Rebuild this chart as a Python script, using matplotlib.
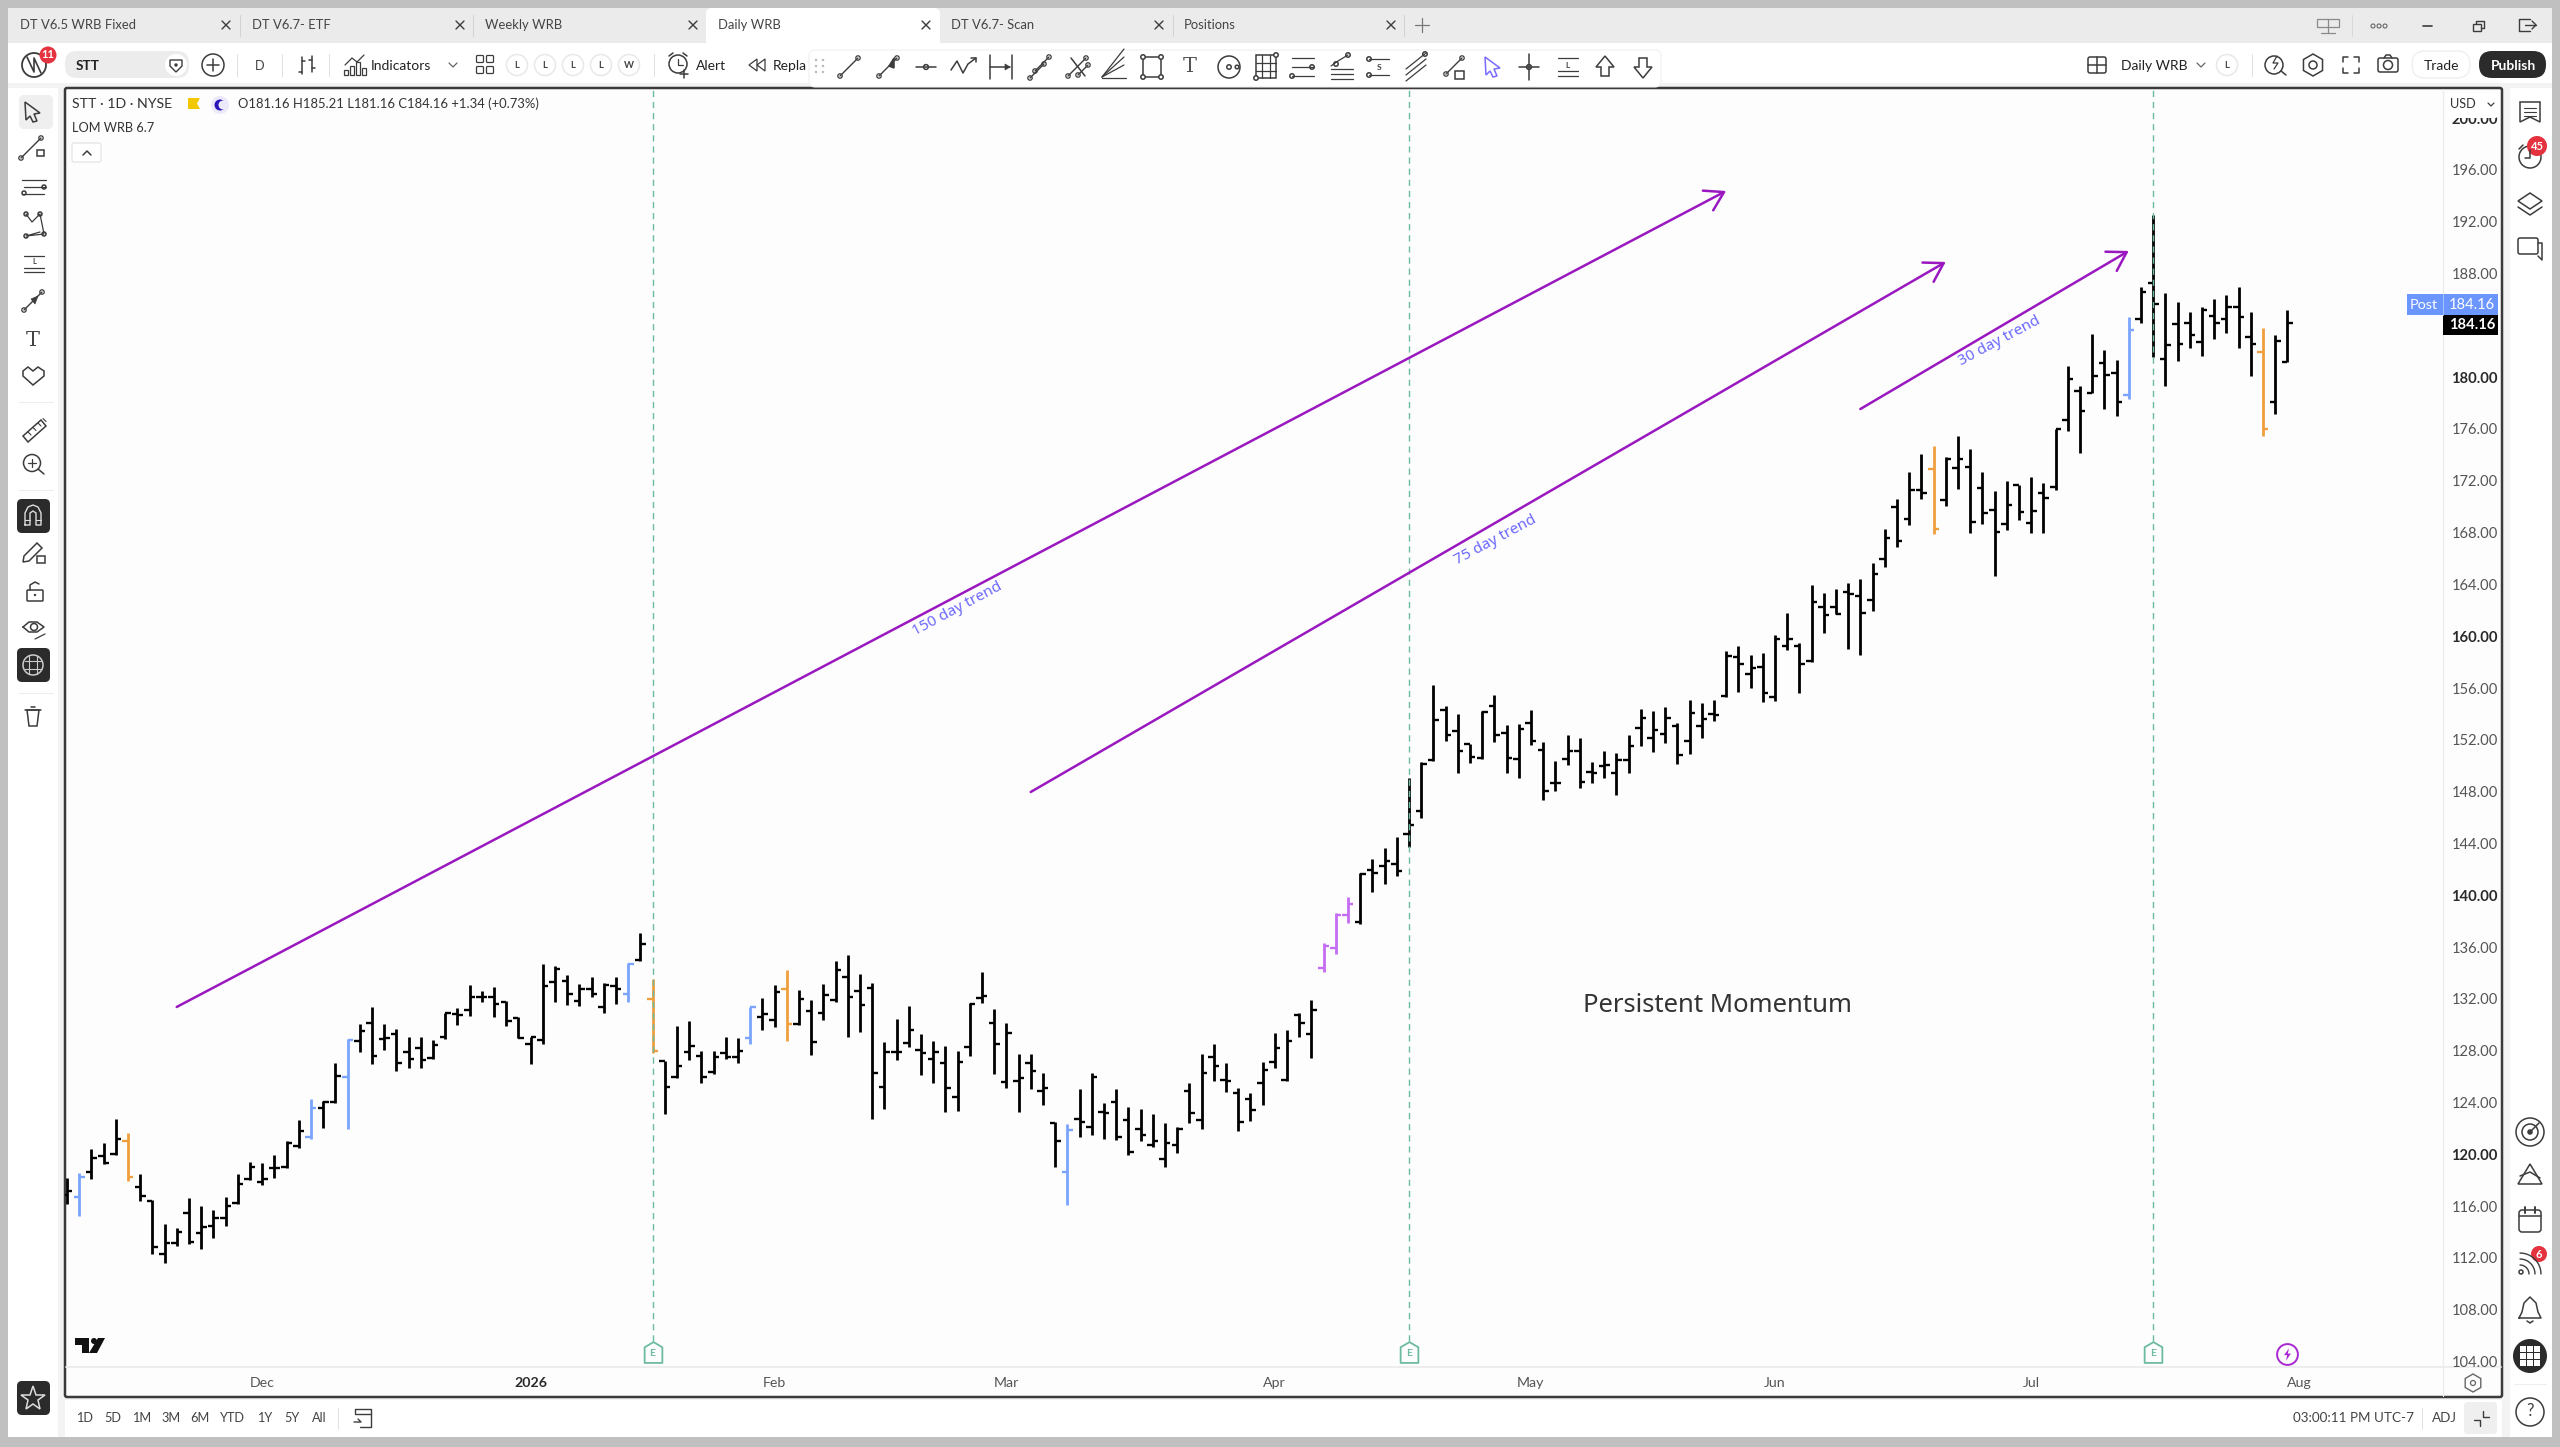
import math
import matplotlib
matplotlib.use('Agg')
import matplotlib.pyplot as plt
from matplotlib.patches import Rectangle, Circle, FancyBboxPatch, Polygon, RegularPolygon
from matplotlib.path import Path

plt.rcParams['font.family'] = ['Lato', 'DejaVu Sans']

# daily bars, Nov 2025 - Jul 2026
bar_open = [116.85, 116.72, 118.65, 119.86, 119.99, 121.04, 117.44, 116.41, 112.30, 113.12,
            115.43, 113.89, 114.48, 115.05, 116.21, 118.11, 117.83, 118.96, 119.01, 120.63,
            121.30, 123.54, 124.01, 125.99, 128.77, 130.16, 128.87, 129.26, 127.92, 128.18,
            127.46, 129.08, 130.83, 131.14, 132.11, 132.11, 131.78, 130.49, 128.51, 128.82,
            133.32, 133.40, 131.86, 132.76, 131.34, 133.01, 132.35, 135.02, 131.99, 127.17,
            125.99, 127.92, 127.58, 126.35, 127.84, 127.53, 129.00, 130.62, 130.36, 132.73,
            130.03, 131.06, 130.88, 131.91, 133.66, 132.60, 132.81, 125.22, 127.92, 128.61,
            128.05, 127.38, 127.07, 124.39, 128.25, 132.04, 130.16, 125.60, 125.68, 127.07,
            124.91, 122.44, 118.63, 122.69, 122.07, 123.23, 124.03, 122.64, 121.92, 120.69,
            119.63, 120.69, 124.91, 122.64, 127.53, 125.73, 124.70, 124.29, 125.47, 127.15,
            125.73, 130.72, 129.28, 134.35, 135.92, 138.44, 137.93, 141.94, 142.25, 142.41,
            144.75, 146.47, 150.46, 154.30, 152.65, 151.67, 150.62, 154.63, 152.55, 150.54,
            153.27, 151.18, 148.66, 150.49, 151.16, 149.54, 149.97, 149.46, 150.41, 152.93,
            152.16, 152.42, 153.06, 151.88, 153.06, 154.02, 155.38, 158.37, 157.08, 157.62,
            155.30, 159.27, 159.27, 158.06, 162.23, 162.28, 163.44, 163.13, 162.77, 165.99,
            169.95, 169.02, 171.26, 172.91, 170.51, 172.96, 173.09, 171.42, 169.74, 168.66,
            171.67, 168.76, 171.03, 171.49, 176.67, 178.93, 178.80, 181.12, 180.30, 178.65,
            184.52, 187.25, 181.38, 184.10, 184.16, 182.69, 184.70, 184.49, 185.42, 183.13,
            181.94, 178.11, 181.16]
bar_high = [118.14, 118.52, 120.38, 120.84, 122.69, 121.61, 118.47, 116.46, 114.59, 114.33,
            116.64, 116.02, 115.69, 116.72, 118.47, 119.37, 119.30, 119.94, 121.04, 122.64,
            124.24, 124.13, 127.07, 128.87, 130.05, 131.34, 130.05, 129.67, 129.08, 129.03,
            128.82, 130.93, 131.27, 133.04, 132.63, 132.94, 131.83, 130.62, 129.08, 134.66,
            134.56, 133.84, 133.14, 133.66, 133.20, 133.66, 134.79, 137.06, 133.50, 127.20,
            129.90, 130.29, 127.99, 127.99, 129.08, 129.00, 131.40, 132.06, 133.04, 134.22,
            132.68, 131.91, 133.14, 134.95, 135.36, 133.89, 133.25, 128.69, 130.44, 131.44,
            129.28, 128.77, 128.38, 127.99, 131.65, 134.04, 131.19, 130.16, 127.74, 127.74,
            126.30, 122.51, 122.31, 125.01, 126.25, 123.93, 125.01, 123.67, 123.47, 123.08,
            122.38, 122.07, 125.47, 127.74, 128.51, 127.07, 125.09, 124.70, 127.15, 129.39,
            129.59, 130.88, 131.91, 136.33, 138.60, 139.88, 141.69, 142.77, 143.62, 144.47,
            149.02, 150.28, 156.23, 154.61, 153.99, 151.67, 154.22, 155.46, 153.14, 153.22,
            154.30, 151.85, 150.39, 152.37, 152.14, 150.31, 151.16, 151.00, 152.37, 154.38,
            154.20, 154.53, 153.27, 155.07, 154.81, 155.07, 158.88, 159.27, 158.57, 158.73,
            160.12, 161.81, 159.50, 163.98, 163.36, 163.62, 164.08, 164.39, 165.63, 168.28,
            170.59, 172.65, 174.04, 174.71, 173.86, 175.48, 174.48, 172.65, 171.18, 171.96,
            171.70, 172.32, 171.80, 175.97, 180.86, 179.32, 183.31, 182.10, 181.32, 184.62,
            186.99, 192.52, 186.52, 185.83, 185.06, 185.44, 186.01, 186.37, 186.99, 185.06,
            183.77, 183.23, 185.21]
bar_low = [116.13, 115.25, 118.11, 119.25, 119.94, 117.93, 116.38, 112.27, 111.57, 112.94,
           113.04, 112.71, 113.56, 114.48, 116.13, 118.01, 117.62, 118.14, 118.96, 120.45,
           121.15, 122.05, 123.93, 121.97, 127.89, 126.97, 128.05, 126.45, 126.68, 126.68,
           127.38, 128.92, 129.98, 130.67, 131.75, 130.57, 129.90, 128.95, 126.97, 128.51,
           131.78, 131.50, 131.44, 132.17, 130.88, 131.60, 131.73, 134.95, 127.79, 123.08,
           125.91, 127.28, 125.52, 126.19, 127.33, 127.02, 128.51, 129.59, 129.80, 128.72,
           129.95, 127.66, 130.36, 131.75, 129.05, 129.41, 122.74, 123.52, 127.28, 128.30,
           126.14, 125.52, 123.23, 123.36, 127.58, 131.65, 126.19, 125.11, 123.29, 125.06,
           123.83, 118.99, 116.08, 121.30, 121.46, 121.15, 121.10, 119.96, 121.04, 120.58,
           118.99, 120.07, 122.44, 121.92, 125.65, 124.83, 121.82, 122.59, 123.83, 126.66,
           125.63, 129.03, 127.43, 134.04, 135.43, 137.88, 137.77, 140.27, 140.86, 141.48,
           143.69, 145.93, 150.39, 151.93, 149.41, 150.23, 150.54, 151.85, 149.46, 149.02,
           151.62, 147.32, 148.02, 150.03, 148.25, 148.64, 149.02, 147.76, 149.41, 151.54,
           151.08, 151.73, 150.10, 150.90, 152.16, 153.48, 155.33, 155.69, 155.98, 154.89,
           154.99, 158.93, 155.59, 158.01, 160.22, 161.69, 159.04, 158.57, 161.97, 165.32,
           166.86, 168.56, 170.59, 167.89, 170.05, 171.34, 167.99, 168.64, 164.65, 168.20,
           168.97, 167.97, 167.97, 171.29, 175.87, 174.12, 178.75, 177.54, 177.03, 178.31,
           184.16, 181.58, 179.32, 181.22, 182.23, 181.63, 182.92, 183.38, 182.23, 180.09,
           175.48, 177.18, 181.16]
bar_close = [117.15, 118.27, 119.68, 119.35, 121.15, 118.27, 116.77, 112.81, 113.12, 114.02,
             113.25, 114.35, 115.05, 116.02, 117.67, 118.99, 118.11, 118.96, 120.89, 121.82,
             123.54, 124.06, 126.07, 128.82, 129.54, 127.61, 128.95, 127.07, 127.33, 127.28,
             128.46, 130.88, 130.78, 132.11, 132.17, 131.60, 130.31, 129.00, 129.03, 132.99,
             134.28, 132.35, 132.73, 132.37, 133.07, 132.73, 134.69, 136.21, 127.97, 125.22,
             126.84, 128.38, 125.99, 127.53, 127.53, 127.99, 131.37, 130.83, 132.53, 130.05,
             131.99, 128.69, 132.29, 134.20, 132.11, 131.52, 126.25, 127.92, 127.92, 129.59,
             127.79, 127.92, 125.09, 127.15, 131.60, 132.22, 128.51, 129.39, 125.86, 126.45,
             125.09, 121.02, 121.87, 122.49, 125.94, 123.21, 121.30, 120.15, 121.48, 121.02,
             120.84, 121.95, 123.16, 126.25, 126.84, 125.65, 122.49, 123.41, 126.50, 128.23,
             128.77, 130.16, 131.14, 136.10, 138.44, 139.34, 141.61, 141.74, 142.64, 141.89,
             145.42, 150.13, 153.53, 152.34, 151.16, 150.69, 154.12, 152.39, 150.62, 152.81,
             151.93, 148.02, 148.66, 151.16, 148.71, 149.43, 150.08, 150.44, 151.54, 153.71,
             152.78, 153.71, 150.85, 154.04, 153.63, 153.94, 158.47, 157.85, 157.54, 155.64,
             159.76, 159.76, 157.85, 162.67, 161.66, 161.74, 163.23, 161.76, 164.80, 167.58,
             167.35, 171.26, 171.03, 168.27, 173.71, 173.71, 168.82, 169.48, 168.04, 170.15,
             169.56, 169.66, 170.67, 175.97, 179.86, 177.41, 180.12, 180.19, 178.11, 183.64,
             186.58, 185.62, 182.48, 182.56, 183.23, 185.21, 184.16, 185.42, 184.62, 182.56,
             176.02, 182.76, 184.16]

blue_bars = [1, 20, 23, 46, 56, 82, 169]
orange_bars = [5, 48, 59, 153, 180]
purple_bars = [103, 104, 105]

earnings_bars = [48, 110, 171]
dividend_bar = 182

price_ticks = list(range(104, 204, 4))
bold_prices = [120, 140, 160, 180, 200]
month_pos = [16, 38, 58, 77, 99, 120, 140, 161, 183]
month_labels = ['Dec', '2026', 'Feb', 'Mar', 'Apr', 'May', 'Jun', 'Jul', 'Aug']

trend_bars = [(9, 136), (79, 154), (147, 169)]
trend_prices = [(131.37, 194.38), (147.97, 188.9), (177.54, 189.75)]
trend_names = ['150 day trend', '75 day trend', '30 day trend']
trend_label_bar = [73, 117.1, 158.4]
trend_label_price = [162.1, 167.4, 182.8]

tab_names = ['DT V6.5 WRB Fixed', 'DT V6.7- ETF', 'Weekly WRB', 'Daily WRB', 'DT V6.7- Scan', 'Positions']
range_names = ['1D', '5D', '1M', '3M', '6M', 'YTD', '1Y', '5Y', 'All']

ICON = '#3c3c3c'
GREY = '#c0c0c0'
TEAL = '#6dbaa3'
PURPLE = '#9a18bf'
BLUE = '#7ba4ff'
ORANGE = '#ef9f3e'
LILAC = '#c46cf2'
TEXT = '#444444'

fig = plt.figure(figsize=(25.6, 14.47), dpi=100, facecolor=GREY)

# chrome drawn in pixel coordinates
bg = fig.add_axes([0, 0, 1, 1], zorder=0)
bg.set_xlim(0, 2560)
bg.set_ylim(1447, 0)
bg.axis('off')
top = fig.add_axes([0, 0, 1, 1], zorder=3)
top.set_xlim(0, 2560)
top.set_ylim(1447, 0)
top.axis('off')


def rect(x0, y0, x1, y1, fc, ec='none', lw=None, rad=0, a=bg):
    if lw is None:
        lw = 0 if ec == 'none' else 1.1
    if rad:
        a.add_patch(FancyBboxPatch((x0 + rad, y0 + rad), x1 - x0 - 2 * rad, y1 - y0 - 2 * rad,
                                   boxstyle=f'round,pad={rad}', fc=fc, ec=ec, lw=lw))
    else:
        a.add_patch(Rectangle((x0, y0), x1 - x0, y1 - y0, fc=fc, ec=ec, lw=lw))


def line(xs, ys, lw=1.1, c=ICON, a=bg):
    a.plot(xs, ys, color=c, lw=lw, solid_capstyle='round', solid_joinstyle='round')


def circ(x, y, r, fc='none', ec=ICON, lw=1.1, a=bg):
    a.add_patch(Circle((x, y), r, fc=fc, ec=ec, lw=lw))


def poly(pts, fc='none', ec=ICON, lw=1.1, a=bg):
    a.add_patch(Polygon(pts, closed=True, fc=fc, ec=ec, lw=lw))


def txt(x, y, s, size=9.5, c=TEXT, ha='left', weight='normal', a=bg, **kw):
    a.text(x, y, s, fontsize=size, color=c, ha=ha, va='center', fontweight=weight, **kw)


def badge(x, y, r, s, a=bg):
    circ(x, y, r, fc='#e5323f', ec='none', a=a)
    txt(x, y, s, size=8, c='white', ha='center', weight='bold', a=a)


def handle_line(x, y, s=9):
    line([x - s, x + s], [y + s, y - s], lw=1.0)
    circ(x - s, y + s, 2.2, fc='white', lw=0.9)
    circ(x + s, y - s, 2.2, fc='white', lw=0.9)


def cursor(x, y, c=ICON):
    poly([(x - 7, y - 10), (x + 8, y + 1), (x + 2, y + 2), (x + 5, y + 9), (x + 1, y + 10),
          (x - 2, y + 4), (x - 6, y + 8)], ec=c)


# window panels
rect(8, 8, 2552, 1437, '#f3f3f3')
rect(8, 8, 2552, 43, '#ebebeb')
rect(8, 43, 2552, 83, 'white')
rect(706, 8, 940, 46, 'white', rad=6)
rect(8, 88, 58, 1437, 'white')
rect(65, 1400, 2502, 1437, 'white')
rect(2510, 88, 2552, 1437, 'white')
rect(65, 88, 2502, 1397, '#fdfdfd', ec='#3a3a3a', lw=1.8, rad=2)
line([2443, 2443], [89, 1396], lw=0.9, c='#ececec')
line([66, 2501], [1367, 1367], lw=1.3, c='#ececec')

# tabs
tab_x = [20, 252, 485, 718, 951, 1184]
close_x = [226, 460, 693, 926, 1159, 1391]
for x, name, cx in zip(tab_x, tab_names, close_x):
    txt(x, 25, name, size=9.4)
    line([cx - 4, cx + 4], [21, 29], lw=1.0)
    line([cx - 4, cx + 4], [29, 21], lw=1.0)
for x in [240, 473, 1173, 1404]:
    line([x, x], [15, 36], lw=0.7, c='#d2d2d2')
line([1415, 1429], [25, 25], lw=0.9, c='#777777')
line([1422, 1422], [18, 32], lw=0.9, c='#777777')

# window buttons
rect(2317, 19, 2339, 27, 'none', ec='#8a8a8a', lw=0.9)
line([2328, 2328], [19, 33], lw=0.9, c='#8a8a8a')
line([2321, 2335], [33, 33], lw=0.9, c='#8a8a8a')
line([2352, 2352], [15, 36], lw=0.7, c='#d8d8d8')
for x in [2373, 2379, 2385]:
    circ(x, 26, 2, ec='#666666', lw=0.8)
line([2423, 2432], [26, 26], lw=1.2)
rect(2473, 24, 2481, 31, 'none', ec=ICON, lw=1.0)
line([2476, 2476, 2484, 2484, 2481], [24, 21, 21, 28, 28], lw=1.0)
line([2530, 2519, 2519, 2530], [19, 19, 31, 31], lw=1.0)
line([2525, 2536], [25, 25], lw=1.0)
line([2532, 2536, 2532], [21, 25, 29], lw=1.0)

# top toolbar, left part
circ(34, 65, 12, lw=1.3)
line([27, 34, 34, 41], [57, 72, 58, 73], lw=1.2)
badge(48, 55, 8.5, '11')
rect(65, 51, 189, 78, '#ececec', rad=12)
txt(76, 66, 'STT', size=9.8, c='#222222', weight='bold')
circ(176, 65, 11, fc='white', ec='none')
poly([(170, 60), (182, 60), (182, 66), (176, 72), (170, 66)], lw=1.0)
circ(176, 65, 1.7, fc=ICON, ec='none')
circ(213, 65, 11)
line([207, 219], [65, 65])
line([213, 213], [59, 71])
for x in [237, 282, 329, 654]:
    line([x, x], [54, 76], lw=0.7, c='#e0e0e0')
txt(260, 66, 'D', size=9.2, ha='center')
line([302, 302], [57, 74])
line([312, 312], [56, 72])
line([299, 302], [72, 72])
line([302, 305], [61, 61])
line([309, 312], [60, 60])
line([312, 315], [68, 68])
for x, h in zip([346, 352, 358, 364], [5, 9, 13, 7]):
    rect(x - 2, 75 - h, x + 2, 75, 'none', ec=ICON, lw=0.9)
line([345, 352, 357, 364], [65, 58, 62, 55], lw=0.9)
txt(371, 66, 'Indicators', size=10, c='#222222')
line([449, 453, 457], [63, 67, 63], lw=0.9, c='#666666')
for x, y in [(480, 59), (490, 59), (480, 70), (490, 70)]:
    rect(x - 3.5, y - 3.5, x + 3.5, y + 3.5, 'none', ec=ICON, lw=0.9, rad=1)
for x, s in zip([517, 545, 573, 601, 629], ['L', 'L', 'L', 'L', 'W']):
    circ(x, 65, 10.5, ec='#e8e8e8')
    txt(x, 65, s, size=6.8, ha='center', weight='bold')
circ(678, 64, 9)
line([678, 678, 683], [59, 65, 65], lw=0.9)
line([684, 684], [70, 78])
line([680, 688], [74, 74])
line([669, 673], [56, 53])
line([687, 683], [56, 53])
txt(696, 66, 'Alert', size=10, c='#222222')
poly([(757, 59), (749, 65), (757, 71)], lw=0.9)
poly([(765, 59), (757, 65), (765, 71)], lw=0.9)
txt(773, 66, 'Repla', size=10, c='#222222')

# floating drawing toolbar
rect(809, 50, 1661, 87, 'white', ec='#f0f0f0', lw=0.8, rad=6)
for y in [60, 66, 72]:
    circ(816, y, 0.8, ec='#b0b0b0', lw=0.6)
    circ(823, y, 0.8, ec='#b0b0b0', lw=0.6)
tool_x = [849, 888, 926, 964, 1002, 1040, 1078, 1114, 1152, 1190, 1229, 1266, 1303, 1342, 1379,
          1416, 1454, 1492, 1529, 1568, 1605, 1643]
y = 67
handle_line(tool_x[0], y)
x = tool_x[1]
handle_line(x, y)
poly([(x + 6, y - 9), (x + 1, y - 1), (x + 6, y + 1)], fc=ICON)
x = tool_x[2]
line([x - 10, x + 10], [y, y])
circ(x, y, 2.4, fc='white')
x = tool_x[3]
line([x - 13, x - 7, x - 1, x + 4, x + 12], [y + 3, y - 6, y + 6, y - 3, y - 9])
line([x + 7, x + 12, x + 12], [y - 9, y - 9, y - 5])
x = tool_x[4]
line([x - 12, x - 12], [y - 12, y + 12])
line([x + 10, x + 10], [y - 12, y + 12])
line([x - 12, x + 8], [y, y])
poly([(x + 3, y - 3), (x + 8, y), (x + 3, y + 3)], fc=ICON, lw=0.5)
x = tool_x[5]
handle_line(x + 2, y - 3, 7)
handle_line(x - 3, y + 4, 7)
x = tool_x[6]
handle_line(x - 1, y, 9)
line([x - 7, x + 7], [y - 9, y + 9])
handle_line(x + 5, y + 3, 5)
x = tool_x[7]
for d in [-8, 0, 8]:
    line([x - 12, x + 10], [y + 10, y - 10 + d], lw=0.9)
line([x - 12, x + 12], [y + 11, y + 11], lw=0.9)
x = tool_x[8]
rect(x - 9, y - 10, x + 9, y + 10, 'none', ec=ICON)
for cx, cy in [(x - 9, y - 10), (x + 9, y - 10), (x - 9, y + 10), (x + 9, y + 10)]:
    circ(cx, cy, 2.2, fc='white')
txt(tool_x[9], y, 'T', size=15, ha='center', family='DejaVu Serif', c='#555555')
x = tool_x[10]
circ(x, y, 11)
circ(x, y, 2.2)
circ(x + 8, y, 1.8, fc='white')
x = tool_x[11]
rect(x - 10, y - 12, x + 10, y + 11, 'none', ec=ICON)
for d in [-4, 4]:
    line([x + d, x + d], [y - 12, y + 11], lw=0.9)
    line([x - 10, x + 10], [y + d, y + d], lw=0.9)
circ(x + 10, y - 12, 2.2, fc='white')
circ(x - 10, y + 11, 2.2, fc='white')
x = tool_x[12]
for d in [-9, 0, 9]:
    line([x - 11, x + 11], [y + d, y + d], lw=0.9)
circ(x + 9, y, 2.2, fc='white')
circ(x - 11, y + 9, 2.2, fc='white')
x = tool_x[13]
line([x - 11, x - 4, x + 6], [y - 1, y - 6, y - 12], lw=0.9)
for d in [2, 7, 12]:
    line([x - 11, x + 11], [y + d, y + d], lw=0.9)
circ(x - 6, y - 3, 2.2, fc='white')
circ(x + 6, y - 12, 2.2, fc='white')
x = tool_x[14]
for d in [-8, 8]:
    line([x - 10, x + 10], [y + d, y + d], lw=0.9)
txt(x, y, 'S', size=6, ha='center', weight='bold')
circ(x - 10, y - 8, 2.2, fc='white')
circ(x - 10, y + 8, 2.2, fc='white')
x = tool_x[15]
for d in [-6, 0, 6]:
    line([x - 10, x + 10], [y + 8 + d, y - 8 + d], lw=0.9)
circ(x + 9, y - 13, 2.2, fc='white')
x = tool_x[16]
handle_line(x, y - 1, 8)
rect(x + 1, y + 4, x + 10, y + 12, 'white', ec=ICON)
cursor(tool_x[17], y, c='#7a6cff')
x = tool_x[18]
line([x - 10, x + 10], [y, y])
line([x, x], [y - 13, y + 13])
circ(x, y, 2.4, fc='white')
x = tool_x[19]
for d in [-9, 9]:
    line([x - 10, x + 10], [y + d, y + d], lw=0.9)
txt(x, y - 1, 'L', size=6, ha='center', weight='bold')
line([x - 10, x + 10], [y + 4, y + 4], lw=0.9)
x = tool_x[20]
poly([(x, y - 11), (x + 9, y), (x + 4, y), (x + 4, y + 9), (x - 4, y + 9), (x - 4, y), (x - 9, y)])
x = tool_x[21]
poly([(x, y + 11), (x + 9, y), (x + 4, y), (x + 4, y - 9), (x - 4, y - 9), (x - 4, y), (x - 9, y)])

# top toolbar, right part
rect(2088, 57, 2106, 73, 'none', ec=ICON, rad=2)
line([2088, 2106], [65, 65])
line([2097, 2097], [57, 73])
txt(2121, 66, 'Daily WRB', size=10, c='#222222')
line([2197, 2201, 2205], [63, 67, 63], lw=0.9, c='#666666')
circ(2227, 65, 10.5, ec='#e8e8e8')
txt(2227, 65, 'L', size=6.8, ha='center', weight='bold')
line([2252, 2252], [54, 76], lw=0.7, c='#e0e0e0')
circ(2274, 65, 9)
line([2281, 2286], [71, 75])
line([2277, 2273, 2278, 2274], [56, 63, 63, 69], lw=0.9)
bg.add_patch(RegularPolygon((2313, 65), 6, radius=11, fc='none', ec=ICON, lw=1.1))
circ(2313, 65, 4)
for sx, sy in [(-1, -1), (1, -1), (-1, 1), (1, 1)]:
    line([2351 + sx * 8, 2351 + sx * 8, 2351 + sx * 3], [65 + sy * 3, 65 + sy * 8, 65 + sy * 8])
rect(2378, 58, 2398, 72, 'none', ec=ICON, rad=2)
circ(2388, 65, 4.5)
line([2384, 2386, 2390, 2392], [58, 55, 55, 58])
rect(2412, 51, 2470, 78, 'white', ec='#ededed', lw=0.9, rad=13)
txt(2441, 66, 'Trade', size=10, c='#222222', ha='center')
rect(2479, 51, 2546, 78, '#2b2b2b', rad=13)
txt(2513, 66, 'Publish', size=10, c='white', ha='center', weight='bold')

# left sidebar
rect(19, 95, 53, 129, '#efefef', rad=5)
cursor(32, 112)
handle_line(31, 148, 10)
rect(37, 150, 44, 156, 'white', ec=ICON)
for d, xa, xb in [(-7, 22, 46), (0, 24, 46), (7, 22, 44)]:
    line([xa, xb], [187 + d, 187 + d], lw=0.9)
circ(44, 187, 2, fc='white')
circ(24, 193, 2, fc='white')
line([26, 32, 40, 44, 26, 40], [214, 222, 214, 234, 236, 232], lw=0.9)
for cx, cy in [(26, 214), (40, 214), (44, 234), (26, 236)]:
    circ(cx, cy, 2, fc='white')
for d in [-8, 8]:
    line([24, 44], [264 + d, 264 + d], lw=0.9)
line([24, 44], [268, 268], lw=0.9)
txt(34, 262, 'L', size=5.5, ha='center', weight='bold')
handle_line(33, 301, 9)
poly([(38, 296), (35, 304), (31, 299)], fc=ICON, lw=0.5)
txt(33, 340, 'T', size=15, ha='center', family='DejaVu Serif', c='#444444')
poly([(33, 385), (23, 376), (23, 371), (28, 367), (33, 371), (38, 367), (44, 371), (44, 376)], lw=1.1)
line([19, 53], [402, 402], lw=0.8, c='#eeeeee')
poly([(23, 436), (41, 420), (46, 426), (28, 442)])
for d in [0, 5, 10, 15]:
    line([28 + d, 31 + d], [432 - d * 0.9, 435 - d * 0.9], lw=0.8)
circ(32, 463, 8.5)
line([28, 36], [463, 463], lw=0.9)
line([32, 32], [459, 467], lw=0.9)
line([38, 44], [469, 474])
line([19, 53], [490, 490], lw=0.8, c='#eeeeee')
rect(17, 499, 50, 533, '#2b2b2b', rad=5)
line([25, 25, 28, 33, 38, 41, 41, 36, 36, 33, 30, 30, 25], [525, 513, 507, 505, 507, 513, 525, 525, 513, 511, 513, 525, 525],
     lw=1.0, c='#dddddd')
line([25, 30], [520, 520], lw=0.8, c='#dddddd')
line([36, 41], [520, 520], lw=0.8, c='#dddddd')
poly([(24, 556), (37, 543), (42, 548), (29, 561), (23, 562)])
rect(37, 556, 45, 563, 'white', ec=ICON)
rect(27, 590, 43, 601, 'white', ec=ICON, rad=1)
line([30, 30, 35, 39], [590, 585, 582, 584])
circ(35, 595, 1.2, fc=ICON, ec='none')
line([23, 29, 37, 44, 37, 29, 23], [627, 622, 622, 627, 632, 632, 627])
circ(34, 627, 3.5)
line([35, 45], [639, 634], lw=0.9)
rect(17, 648, 50, 682, '#2b2b2b', rad=5)
circ(33, 665, 10, ec='#cccccc')
line([25, 41], [661, 661], lw=0.8, c='#cccccc')
line([25, 41], [669, 669], lw=0.8, c='#cccccc')
line([29, 29], [656, 674], lw=0.8, c='#cccccc')
line([37, 37], [656, 674], lw=0.8, c='#cccccc')
line([19, 53], [693, 693], lw=0.8, c='#eeeeee')
line([25, 41], [710, 710])
poly([(27, 710), (39, 710), (37, 726), (29, 726)])
line([31, 35], [707, 707])
rect(17, 1381, 50, 1415, '#2b2b2b', rad=5)
poly([(33, 1386), (36, 1395), (45, 1395), (38, 1400), (40, 1409), (33, 1404), (26, 1409), (28, 1400),
      (21, 1395), (30, 1395)], ec='#dddddd')

# right sidebar
poly([(2520, 102), (2540, 102), (2540, 122), (2530, 117), (2520, 122)])
for d in [108, 112, 116]:
    line([2524, 2536], [d, d], lw=0.8)
circ(2530, 157, 11)
line([2530, 2530, 2525], [150, 158, 158])
line([2519, 2523], [149, 145])
badge(2537, 146, 10, '45')
poly([(2530, 193), (2542, 201), (2530, 209), (2518, 201)])
line([2518, 2530, 2542], [207, 215, 207])
rect(2518, 238, 2538, 254, 'none', ec=ICON, rad=2)
line([2538, 2542, 2542, 2538], [243, 243, 260, 256])
circ(2530, 1132, 14)
circ(2530, 1132, 8)
circ(2530, 1132, 2, fc=ICON)
line([2530, 2539], [1132, 1123])
poly([(2530, 1164), (2542, 1184), (2518, 1184)])
line([2520, 2530, 2540], [1176, 1172, 1178])
rect(2519, 1210, 2541, 1232, 'none', ec=ICON, rad=3)
line([2519, 2541], [1216, 1216])
line([2525, 2525], [1207, 1213], lw=1.4)
line([2535, 2535], [1207, 1213], lw=1.4)
circ(2521, 1272, 2)
for r in [9, 15, 21]:
    th = [i / 10 * 1.57 for i in range(11)]
    line([2520 + r * math.cos(t) for t in th], [1274 - r * math.sin(t) for t in th], lw=1.0)
badge(2539, 1254, 8, '6')
line([2519, 2522, 2524, 2530, 2536, 2538, 2541, 2519], [1318, 1312, 1303, 1297, 1303, 1312, 1318, 1318])
line([2527, 2530, 2533], [1321, 1323, 1321])
circ(2530, 1356, 17, fc='#2b2b2b', ec='none')
for dx in [-7, 0, 7]:
    for dy in [-7, 0, 7]:
        rect(2530 + dx - 2.6, 1356 + dy - 2.6, 2530 + dx + 2.6, 1356 + dy + 2.6, 'white')
line([2514, 2546], [1384, 1384], lw=0.8, c='#eeeeee')
circ(2530, 1412, 14)
txt(2530, 1411, '?', size=12, ha='center', c=ICON)

# bottom bar
range_x = [85, 113, 142, 171, 200, 232, 265, 292, 319]
for x, s in zip(range_x, range_names):
    txt(x, 1418, s, size=9.2, ha='center')
line([338, 338], [1408, 1429], lw=0.7, c='#e0e0e0')
line([355, 355, 371, 371, 360], [1413, 1409, 1409, 1427, 1427], lw=1.0)
line([355, 371], [1414, 1414], lw=1.0)
line([354, 361, 358], [1422, 1422, 1419], lw=1.0)
txt(2293, 1418, '03:00:11 PM UTC-7', size=9.7)
line([2422, 2422], [1408, 1429], lw=0.7, c='#e0e0e0')
txt(2444, 1418, 'ADJ', size=9.7, ha='center')
rect(2464, 1402, 2497, 1434, '#efefef', rad=4)
line([2474, 2480, 2480], [1420, 1420, 1426], lw=1.0)
line([2483, 2483, 2489], [1411, 1417, 1417], lw=1.0)

# chart pane, pixel mapping set by the limits
ax = fig.add_axes([65 / 2560, 1 - 1367 / 1447, (2443 - 65) / 2560, (1367 - 88) / 1447], zorder=1)
ax.patch.set_alpha(0)
for s in ax.spines.values():
    s.set_visible(False)
ax.set_xlim(-0.156, 194.76)
ax.set_ylim(103.57, 202.33)

colors = ['black'] * len(bar_open)
for i in blue_bars:
    colors[i] = BLUE
for i in orange_bars:
    colors[i] = ORANGE
for i in purple_bars:
    colors[i] = LILAC

xs = list(range(len(bar_open)))
ax.vlines(xs, bar_low, bar_high, colors=colors, lw=2.0, zorder=3)
ax.hlines(bar_open, [x - 0.45 for x in xs], xs, colors=colors, lw=1.7, zorder=3)
ax.hlines(bar_close, xs, [x + 0.45 for x in xs], colors=colors, lw=1.7, zorder=3)

ax.yaxis.tick_right()
ax.set_yticks(price_ticks)
ax.set_yticklabels([f'{p:.2f}' for p in price_ticks], fontsize=10.6, color='#555555')
for lab, p in zip(ax.get_yticklabels(), price_ticks):
    if p in bold_prices:
        lab.set_fontweight('bold')
        lab.set_color('#2a2a2a')
ax.set_xticks(month_pos)
ax.set_xticklabels(month_labels, fontsize=10.2, color='#555555')
ax.get_xticklabels()[1].set_fontweight('bold')
ax.get_xticklabels()[1].set_color('#2a2a2a')
ax.tick_params(axis='both', length=0)
ax.tick_params(axis='y', pad=6)
ax.tick_params(axis='x', pad=7)

# earnings lines and markers
ax.vlines(earnings_bars, 105.6, 202.33, colors=TEAL, lw=1.0, linestyles=(0, (4.5, 3.5)), zorder=4)
house = Path([(-0.85, -1), (-0.85, 0.5), (0, 1), (0.85, 0.5), (0.85, -1), (-0.85, -1)], closed=True)
ax.plot(earnings_bars, [104.73] * 3, ls='none', marker=house, ms=15, mfc='none', mec=TEAL, mew=1.3, zorder=5)
for b in earnings_bars:
    ax.text(b, 104.65, 'E', fontsize=7.5, color=TEAL, ha='center', va='center', fontweight='bold')
bolt = Path([(0.25, 1), (-0.55, -0.1), (-0.05, -0.1), (-0.25, -1), (0.55, 0.15), (0.05, 0.15), (0.25, 1)], closed=True)
ax.plot([dividend_bar], [104.57], ls='none', marker='o', ms=15, mfc='none', mec='#a928d2', mew=1.4, zorder=5)
ax.plot([dividend_bar], [104.57], ls='none', marker=bolt, ms=9, mfc='#a928d2', mec='none', zorder=5)

# trend arrows
for b, p, name, lx, ly in zip(trend_bars, trend_prices, trend_names, trend_label_bar, trend_label_price):
    ax.annotate('', xy=(b[1], p[1]), xytext=(b[0], p[0]),
                arrowprops=dict(arrowstyle='->,head_length=0.65,head_width=0.4', color=PURPLE, lw=1.8,
                                shrinkA=0, shrinkB=0, mutation_scale=20), zorder=6)
    ax.text(lx, ly, name, fontsize=11, color='#6b68ff', ha='center', va='center', rotation=28,
            rotation_mode='anchor', family='Noto Sans', zorder=6)

ax.text(135.3, 131.5, 'Persistent Momentum', fontsize=18.5, color='#333333', ha='center', va='center',
        family='Noto Sans')

# pane legend and overlays
txt(72, 104, 'STT · 1D · NYSE', size=10.2, c='#333333', a=top)
poly([(188, 98), (200, 98), (197, 103.5), (200, 109), (188, 109)], fc='#f2c800', ec='none', a=top)
circ(220, 105, 9, fc='#ece9fb', ec='none', a=top)
circ(220, 105, 5.5, fc='#2a16b8', ec='none', a=top)
circ(223, 105, 4.5, fc='#ece9fb', ec='none', a=top)
txt(238, 104, 'O181.16 H185.21 L181.16 C184.16 +1.34 (+0.73%)', size=9.4, c='#333333', a=top)
txt(72, 128, 'LOM WRB 6.7', size=9.2, c='#333333', a=top)
rect(72, 143, 101, 162, 'white', ec='#e2e2e2', lw=0.8, rad=2, a=top)
line([83, 87, 91], [155, 151, 155], lw=1.1, a=top)

# TradingView mark
poly([(75, 1338), (89, 1338), (89, 1353), (82, 1353), (82, 1345), (75, 1345)], fc='#111111', ec='none', a=top)
circ(94, 1341, 3, fc='#111111', ec='none', a=top)
poly([(98, 1338), (105, 1338), (97, 1353), (89, 1353)], fc='#111111', ec='none', a=top)

# price axis badges
rect(2446, 93, 2498, 118, 'white', rad=3, a=top)
txt(2450, 104, 'USD', size=9.2, c='#333333', a=top)
line([2488, 2491, 2494], [103, 106, 103], lw=0.9, a=top)
rect(2407, 294, 2498, 315, '#6b95ff', a=top)
line([2443, 2443], [294, 315], lw=0.7, c='#a9c2ff', a=top)
txt(2424, 305, 'Post', size=10.4, c='white', ha='center', a=top)
txt(2472, 305, '184.16', size=10.6, c='white', ha='center', a=top)
rect(2443, 315, 2498, 335, 'black', a=top)
txt(2472, 325, '184.16', size=10.6, c='white', ha='center', weight='bold', a=top)
top.add_patch(RegularPolygon((2473, 1383), 6, radius=9, fc='none', ec='#666666', lw=1.0))
circ(2473, 1383, 2.5, ec='#666666', lw=0.9, a=top)

fig.savefig('out.png', dpi=100, facecolor=GREY)
